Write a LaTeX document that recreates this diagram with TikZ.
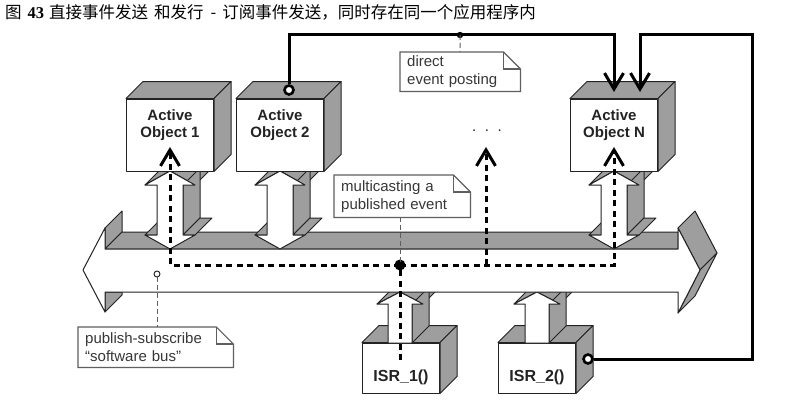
\documentclass[tikz,border=0pt]{standalone}
\usepackage{fontspec}
\setmainfont{Liberation Sans}
\newfontfamily\cjk{Noto Sans CJK SC}
\newfontfamily\tnr{Liberation Serif}
\usetikzlibrary{arrows.meta}
\definecolor{facegray}{RGB}{158,158,158}
\definecolor{edge}{RGB}{35,35,35}
\definecolor{notegray}{RGB}{95,95,95}
\definecolor{notetxt}{RGB}{55,55,55}

% vertical double arrow between an active object and the bus: cx, top tip y, bottom tip y
\newcommand\busarrow[3]{%
 \draw[face] ({#1-25},{#2+14}) -- ({#1-8},{#2-3}) -- ({#1+17},{#2-17}) -- (#1,#2) -- cycle;
 \draw[face] (#1,#2) -- ({#1+17},{#2-17}) -- ({#1+42},{#2-3}) -- ({#1+25},{#2+14}) -- cycle;
 \draw[face] ({#1+13},{#2+14}) -- ({#1+30},{#2-3}) -- ({#1+30},{#3-31}) -- ({#1+13},{#3-14}) -- cycle;
 \draw[face] ({#1+13},{#3-14}) -- ({#1+30},{#3-31}) -- ({#1+42},{#3-31}) -- ({#1+25},{#3-14}) -- cycle;
 \draw[face] ({#1-25},{#3-14}) -- ({#1-8},{#3-31}) -- ({#1+4},{#3-31}) -- ({#1-13},{#3-14}) -- cycle;
 \draw[front] (#1,#2) -- ({#1+25},{#2+14}) -- ({#1+13},{#2+14}) -- ({#1+13},{#3-14}) -- ({#1+25},{#3-14}) -- (#1,#3) -- ({#1-25},{#3-14}) -- ({#1-13},{#3-14}) -- ({#1-13},{#2+14}) -- ({#1-25},{#2+14}) -- cycle;
}
% single up arrow from an ISR to the bus: cx, tip y, bottom y
\newcommand\israrrow[3]{%
 \draw[face] ({#1-23},{#2+12}) -- ({#1-6},{#2-5}) -- ({#1+17},{#2-17}) -- (#1,#2) -- cycle;
 \draw[face] (#1,#2) -- ({#1+17},{#2-17}) -- ({#1+40},{#2-5}) -- ({#1+23},{#2+12}) -- cycle;
 \draw[face] ({#1+12},{#2+12}) -- ({#1+29},{#2-5}) -- ({#1+29},{#3-17}) -- ({#1+12},{#3}) -- cycle;
 \draw[front] (#1,#2) -- ({#1+23},{#2+12}) -- ({#1+12},{#2+12}) -- ({#1+12},#3) -- ({#1-12},#3) -- ({#1-12},{#2+12}) -- ({#1-23},{#2+12}) -- cycle;
}
\newcommand\boxfaces[1]{%
 \draw[face] (#1.north west) -- ++(17,-17) -- ([shift={(17,-17)}]#1.north east) -- (#1.north east) -- cycle;
 \draw[face] (#1.north east) -- ++(17,-17) -- ([shift={(17,-17)}]#1.south east) -- (#1.south east) -- cycle;
}
\newcommand\noteoutline[1]{%
 \draw[noteline] (#1.north west) -- ([xshift=-17pt]#1.north east) -- ([yshift=-17pt]#1.north east) -- (#1.south east) -- (#1.south west) -- cycle;
 \draw[noteline] ([xshift=-17pt]#1.north east) -- ([xshift=-17pt,yshift=-17pt]#1.north east) -- ([yshift=-17pt]#1.north east);
}

\begin{document}
\begin{tikzpicture}[x=1pt,y=-1pt,
  face/.style={fill=facegray, draw=edge, line width=1pt, line join=round},
  front/.style={fill=white, draw=edge, line width=1pt, line join=round},
  aobox/.style={front, minimum width=87pt, minimum height=72pt, inner sep=0pt},
  isrbox/.style={front, minimum width=77pt, minimum height=50pt, inner sep=0pt},
  boxlabel/.style={font=\fontsize{15}{17.5}\selectfont\bfseries, align=center, text=edge, inner sep=0pt},
  isrlabel/.style={font=\fontsize{16}{18}\selectfont\bfseries, text=edge, inner sep=0pt},
  note/.style={font=\fontsize{15}{18}\selectfont, align=left, text=notetxt, inner xsep=7pt, inner ysep=0pt, anchor=north west},
  noteline/.style={draw=notegray, line width=1.2pt, line join=miter},
  callout/.style={draw=notegray, line width=1pt, dash pattern=on 5pt off 3pt},
  dotline/.style={line width=3pt, dash pattern=on 6pt off 4.5pt},
  barb/.style={-{Straight Barb[length=16pt,width=19pt]}},
  post/.style={line width=3pt, line join=miter},
  ring/.style={circle, draw=black, line width=2.6pt, fill=white, minimum size=9pt, inner sep=0pt}
]
\useasboundingbox[fill=white] (0,0) rectangle (795,404);

% title
\node[anchor=base west, inner sep=0pt, font=\fontsize{16.5}{18}\selectfont] (title) at (5,19)
  {\cjk 图\hspace{6pt}{\tnr\bfseries 43}\hspace{5pt}直接事件发送\hspace{6pt}和发行\hspace{7pt}-\hspace{6pt}订阅事件发送，同时存在同一个应用程序内};

% ISR boxes
\node[isrbox] (isr1) at (401,368) {};
\node[isrbox] (isr2) at (537,368) {};
\boxfaces{isr1}
\boxfaces{isr2}
\node[isrlabel] (isr1t) at (401,377) {ISR\_1()};
\node[isrlabel] (isr2t) at (537,377) {ISR\_2()};
\israrrow{400}{292}{343}
\israrrow{537}{292}{343}

% software bus
\coordinate (bus) at (392,270);
\draw[face] (105,228) -- (122,211) -- (122,232) -- (105,249) -- cycle;
\draw[face] (105,249) -- (122,232) -- (678,232) -- (678,249) -- cycle;
\draw[face] (678,228) -- (695,211) -- (717,253) -- (700,270) -- cycle;
\draw[face] (700,270) -- (717,253) -- (695,296) -- (678,313) -- cycle;
\draw[face] (105,292) -- (122,292) -- (122,295) -- (105,312) -- cycle;
\draw[front] (83,270) -- (105,228) -- (105,249) -- (678,249) -- (678,228) -- (700,270)
  -- (678,313) -- (678,292) -- (105,292) -- (105,312) -- cycle;

% arrows between active objects and bus
\busarrow{170}{171}{249}
\busarrow{280}{171}{249}
\busarrow{614}{171}{249}

% active objects
\node[aobox] (ao1) at (170,135) {};
\node[aobox] (ao2) at (280,135) {};
\node[aobox] (aoN) at (614,135) {};
\boxfaces{ao1}
\boxfaces{ao2}
\boxfaces{aoN}
\node[boxlabel] (ao1t) at (170,125) {Active\\Object 1};
\node[boxlabel] (ao2t) at (280,125) {Active\\Object 2};
\node[boxlabel] (aoNt) at (614,125) {Active\\Object N};
\node[anchor=base, inner sep=0pt, font=\fontsize{15}{18}\selectfont, text=edge] (dots) at (487,131) {.\hspace{8.6pt}.\hspace{8.6pt}.};

% multicasting (dotted)
\coordinate (J) at (400,265);
\coordinate (jd) at (486,265);
\coordinate (c1) at (170,147);
\coordinate (cd) at (486,147);
\coordinate (cN) at (614,147);
\coordinate (isr1src) at (400,360);
\draw[dotline] (isr1src) -- (J);
\draw[dotline, barb] (J) -| (c1);
\draw[dotline, barb] (J) -| (cN);
\draw[dotline, barb] (jd) -- (cd);
\fill (J) circle (5.5);

% direct event posting (solid)
\node[ring] (src2) at (289,90) {};
\node[ring] (src3) at (588,359) {};
\coordinate (hub) at (460,35);
\coordinate (tipA) at (614,92);
\coordinate (rc) at (752,35);
\coordinate (tipB) at (640,92);
\draw[post, barb] (src2) |- (hub) -| (tipA);
\draw[post, barb] (src3) -| (rc) -| (tipB);
\fill (hub) circle (3.2);

% notes
\node[note, text width=106pt, minimum width=120pt, minimum height=39pt] (n1) at (400,52) {direct\\event posting};
\noteoutline{n1}
\draw[callout] (hub) -- (n1.north);

\node[note, text width=122pt, minimum width=136pt, minimum height=42pt] (n2) at (334,175) {multicasting a\\published event};
\noteoutline{n2}
\draw[callout] (n2.south -| J) -- (J);

\node[circle, draw=edge, line width=0.9pt, fill=white, minimum size=6pt, inner sep=0pt] (hole) at (157,274) {};
\node[note, text width=141pt, minimum width=155pt, minimum height=40pt] (n3) at (78,327) {publish-subscribe\\“software bus”};
\noteoutline{n3}
\draw[callout] (hole) -- (hole |- n3.north);
\end{tikzpicture}
\end{document}
